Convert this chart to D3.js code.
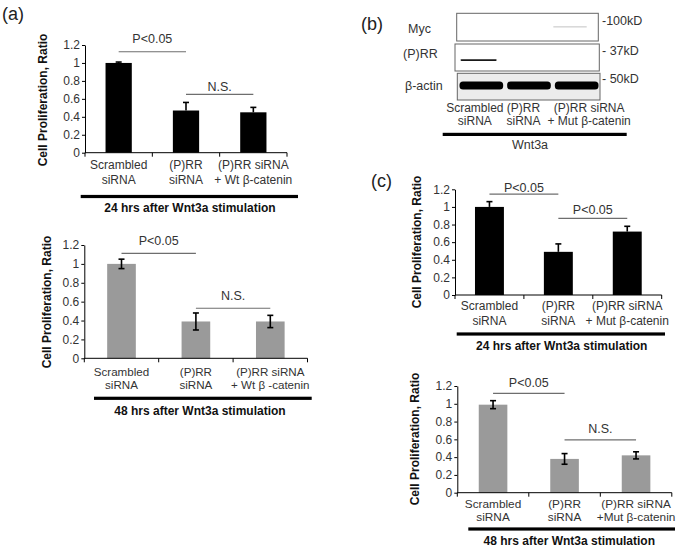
<!DOCTYPE html>
<html><head><meta charset="utf-8">
<script src="https://cdn.jsdelivr.net/npm/d3@7"></script>
<style>
body{margin:0;background:#fff}
svg{display:block}
text{font-family:"Liberation Sans",Arial,Helvetica,sans-serif}
</style>
</head><body>
<svg id="fig" width="685" height="550"></svg>
<script>
// ---------------- DATA ----------------
const yTickValues = [0, 0.2, 0.4, 0.6, 0.8, 1, 1.2];
const yTickLabels = ["0", "0.2", "0.4", "0.6", "0.8", "1", "1.2"];
const yAxisTitle = "Cell Proliferation, Ratio";

const catsA24 = [["Scrambled", "siRNA"], ["(P)RR", "siRNA"], ["(P)RR siRNA", "+ Wt β-catenin"]];
const catsA48 = [["Scrambled", "siRNA"], ["(P)RR", "siRNA"], ["(P)RR siRNA", "+ Wt β -catenin"]];
const catsC24 = [["Scrambled", "siRNA"], ["(P)RR", "siRNA"], ["(P)RR siRNA", "+ Mut β-catenin"]];
const catsC48 = [["Scrambled", "siRNA"], ["(P)RR", "siRNA"], ["(P)RR siRNA", "+Mut β-catenin"]];

const valuesA24 = [1.00, 0.47, 0.45];
const errorsA24 = [0.01, 0.09, 0.055];
const valuesA48 = [1.00, 0.39, 0.39];
const errorsA48 = [0.05, 0.09, 0.065];
const valuesC24 = [1.00, 0.49, 0.72];
const errorsC24 = [0.06, 0.09, 0.06];
const valuesC48 = [0.99, 0.38, 0.42];
const errorsC48 = [0.045, 0.06, 0.04];

// significance comparisons: [from, to, label, line level, label level] (data units)
const sigA24 = [[0, 1, "P<0.05", 1.125, 1.225], [1, 2, "N.S.", 0.65, 0.688]];
const sigA48 = [[0, 1, "P<0.05", 1.112, 1.20], [1, 2, "N.S.", 0.53, 0.618]];
const sigC24 = [[0, 1, "P<0.05", 1.146, 1.17], [1, 2, "P<0.05", 0.87, 0.916]];
const sigC48 = [[0, 1, "P<0.05", 1.118, 1.186], [1, 2, "N.S.", 0.593, 0.668]];

const captions = ["24 hrs after Wnt3a stimulation", "48 hrs after Wnt3a stimulation",
                  "24 hrs after Wnt3a stimulation", "48 hrs after Wnt3a stimulation"];
const panelLetters = ["(a)", "(b)", "(c)"];

// western blot (panel b)
const blotRows = ["Myc", "(P)RR", "β-actin"];
const blotMarkers = ["-100kD", "- 37kD", "- 50kD"];
const blotLaneLabels = [["Scrambled", "siRNA"], ["(P)RR", "siRNA"], ["(P)RR siRNA", "+ Mut β-catenin"]];
const blotMycBands = [0, 0, 0.15];
const blotPrrBands = [0.9, 0, 0];
const blotActinBands = [1, 1, 1];
const blotTreatment = "Wnt3a";

// ---------------- DRAWING ----------------
const svg = d3.select("#fig");
const FONT = '"Liberation Sans",Arial,Helvetica,sans-serif';

function drawBarPanel(p) {
  const g = svg.append("g");
  const n = p.values.length;
  const x = d3.scaleBand().domain(d3.range(n)).range([p.x0, p.x1])
    .paddingInner(p.pad).paddingOuter(p.pad / 2);
  const y = d3.scaleLinear().domain([0, 1.2]).range([p.yBase, p.yTop]);
  const bw = x.bandwidth();
  const step = x.step();
  const cx = i => x(i) + bw / 2;

  // bars
  g.selectAll("rect.bar").data(p.values).join("rect")
    .attr("class", "bar")
    .attr("x", (d, i) => x(i)).attr("width", bw)
    .attr("y", d => y(d)).attr("height", d => y(0) - y(d))
    .attr("fill", p.color);

  // error bars
  const eb = g.append("g").attr("stroke", "#000").attr("stroke-width", 1.6).attr("fill", "none");
  p.values.forEach((v, i) => {
    const e = p.errors[i];
    const lo = p.twoSided ? v - e : v;
    eb.append("line").attr("x1", cx(i)).attr("x2", cx(i)).attr("y1", y(lo)).attr("y2", y(v + e));
    eb.append("line").attr("x1", cx(i) - 3).attr("x2", cx(i) + 3).attr("y1", y(v + e)).attr("y2", y(v + e));
    if (p.twoSided)
      eb.append("line").attr("x1", cx(i) - 3).attr("x2", cx(i) + 3).attr("y1", y(lo)).attr("y2", y(lo));
  });

  // y axis
  const ya = g.append("g").attr("transform", `translate(${p.x0},0)`)
    .call(d3.axisLeft(y).tickValues(yTickValues).tickFormat((d, i) => yTickLabels[i])
      .tickSizeInner(3).tickSizeOuter(0).tickPadding(2));
  ya.selectAll("text").attr("font-family", FONT).attr("font-size", 12).attr("fill", "#333");
  ya.select(".domain").attr("stroke", "#000");
  ya.selectAll(".tick line").attr("stroke", "#000");

  // x axis
  const xa = g.append("g").attr("stroke", "#000").attr("stroke-width", 1);
  xa.append("line").attr("x1", p.x0).attr("x2", p.x0 + step * n).attr("y1", y(0)).attr("y2", y(0));
  d3.range(n + 1).forEach(k => {
    const xx = p.x0 + k * step;
    xa.append("line").attr("x1", xx).attr("x2", xx).attr("y1", y(0)).attr("y2", y(0) + 4);
  });

  // category labels
  p.cats.forEach((lines, i) => {
    const t = g.append("text").attr("text-anchor", "middle").attr("font-size", p.labSize).attr("fill", "#333");
    lines.forEach((ln, k) => {
      t.append("tspan").attr("x", cx(i)).attr("y", p.yBase + p.lab1 + k * p.labGap).text(ln);
    });
  });

  // significance
  p.sig.forEach(([a, b, lab, lvl, tl]) => {
    g.append("line").attr("x1", cx(a)).attr("x2", cx(b)).attr("y1", y(lvl)).attr("y2", y(lvl))
      .attr("stroke", "#6e6e6e").attr("stroke-width", 1.2);
    g.append("text").attr("x", (cx(a) + cx(b)) / 2).attr("y", y(tl))
      .attr("text-anchor", "middle").attr("font-size", 12.5).attr("fill", "#333").text(lab);
  });

  // heavy underline and caption
  g.append("rect").attr("x", p.barX0).attr("width", p.barX1 - p.barX0)
    .attr("y", p.barY - 1.6).attr("height", 3.2).attr("fill", "#000");
  g.append("text").attr("x", p.capX).attr("y", p.capY).attr("text-anchor", "middle")
    .attr("font-size", 12).attr("font-weight", "bold").attr("fill", "#111").text(p.caption);

  // y title
  g.append("text").attr("transform", `translate(${p.titleX},${p.titleY}) rotate(-90)`)
    .attr("text-anchor", "middle").attr("dy", "0.35em")
    .attr("font-size", 12).attr("font-weight", "bold").attr("fill", "#111").text(yAxisTitle);
}

drawBarPanel({ values: valuesA24, errors: errorsA24, cats: catsA24, sig: sigA24, caption: captions[0],
  color: "#000", twoSided: false, x0: 85, x1: 287, pad: 0.61, yBase: 152.7, yTop: 45,
  lab1: 16.5, labGap: 14.8, labSize: 12, barX0: 80.7, barX1: 298, barY: 196.5, capX: 190, capY: 211.5,
  titleX: 43, titleY: 100 });

drawBarPanel({ values: valuesA48, errors: errorsA48, cats: catsA48, sig: sigA48, caption: captions[1],
  color: "#9a9a9a", twoSided: true, x0: 84.3, x1: 307.5, pad: 0.615, yBase: 358.3, yTop: 245,
  lab1: 17.6, labGap: 12.6, labSize: 11.6, barX0: 94, barX1: 311.7, barY: 398.3, capX: 200, capY: 415,
  titleX: 46.5, titleY: 302 });

drawBarPanel({ values: valuesC24, errors: errorsC24, cats: catsC24, sig: sigC24, caption: captions[2],
  color: "#000", twoSided: false, x0: 455, x1: 661.7, pad: 0.58, yBase: 295, yTop: 189.3,
  lab1: 15, labGap: 15, labSize: 12, barX0: 456.7, barX1: 665, barY: 334, capX: 561.7, capY: 350,
  titleX: 416.5, titleY: 242 });

drawBarPanel({ values: valuesC48, errors: errorsC48, cats: catsC48, sig: sigC48, caption: captions[3],
  color: "#9a9a9a", twoSided: true, x0: 457.3, x1: 671.8, pad: 0.6, yBase: 492.7, yTop: 386,
  lab1: 15.4, labGap: 12.8, labSize: 11.8, barX0: 468.3, barX1: 675, barY: 529, capX: 569.3, capY: 545,
  titleX: 415, titleY: 439 });

// panel letters
[[2, 20], [361, 30], [371, 187]].forEach(([lx, ly], i) => {
  svg.append("text").attr("x", lx).attr("y", ly).attr("font-size", 18).attr("fill", "#222").text(panelLetters[i]);
});

// ---------------- panel (b) western blot ----------------
(function () {
  const g = svg.append("g");
  const lanes = d3.scaleBand().domain(d3.range(3)).range([457, 600]);
  const rowBoxes = [[456.7, 598.3, 13.3, 41], [455, 599.3, 44, 71], [457.3, 600, 73.3, 100]];
  const rowLabelX = [408, 403, 405];
  const rowLabelY = [33, 58, 90];
  const markerY = [25, 55, 83];

  rowBoxes.forEach(([bx0, bx1, by0, by1], r) => {
    g.append("rect").attr("x", bx0).attr("y", by0).attr("width", bx1 - bx0).attr("height", by1 - by0)
      .attr("fill", r === 2 ? "#ececec" : "#fff").attr("stroke", "#666").attr("stroke-width", 1);
    g.append("text").attr("x", rowLabelX[r]).attr("y", rowLabelY[r]).attr("font-size", 12.5)
      .attr("fill", "#333").text(blotRows[r]);
    g.append("text").attr("x", 602).attr("y", markerY[r]).attr("font-size", 12.5)
      .attr("fill", "#333").text(blotMarkers[r]);
  });

  // Myc bands (faint)
  blotMycBands.forEach((v, i) => {
    if (v <= 0) return;
    g.append("rect").attr("x", lanes(i) + 1).attr("width", lanes.bandwidth() * 0.7)
      .attr("y", 26).attr("height", 1.6).attr("fill", "#000").attr("opacity", v);
  });
  // (P)RR bands
  blotPrrBands.forEach((v, i) => {
    if (v <= 0) return;
    g.append("rect").attr("x", lanes(i) + 3.5).attr("width", lanes.bandwidth() * 0.76)
      .attr("y", 59.2).attr("height", 1.7).attr("rx", 0.8).attr("fill", "#000").attr("opacity", v);
  });
  // beta-actin bands
  blotActinBands.forEach((v, i) => {
    g.append("rect").attr("x", lanes(i) + 2.5).attr("width", lanes.bandwidth() - 4)
      .attr("y", 81.5).attr("height", 8).attr("rx", 3.5).attr("fill", "#000").attr("opacity", v);
  });

  const laneDx = [-6, -5, 13];
  blotLaneLabels.forEach((lines, i) => {
    const t = g.append("text").attr("text-anchor", "middle").attr("font-size", 12).attr("fill", "#333");
    lines.forEach((ln, k) => {
      t.append("tspan").attr("x", lanes(i) + lanes.bandwidth() / 2 + laneDx[i]).attr("y", 111.5 + k * 13.5).text(ln);
    });
  });
  g.append("rect").attr("x", 442.7).attr("width", 184).attr("y", 132.8).attr("height", 3.2).attr("fill", "#000");
  g.append("text").attr("x", 530).attr("y", 148.5).attr("text-anchor", "middle").attr("font-size", 12.5)
    .attr("fill", "#333").text(blotTreatment);
})();
</script>
</body></html>
